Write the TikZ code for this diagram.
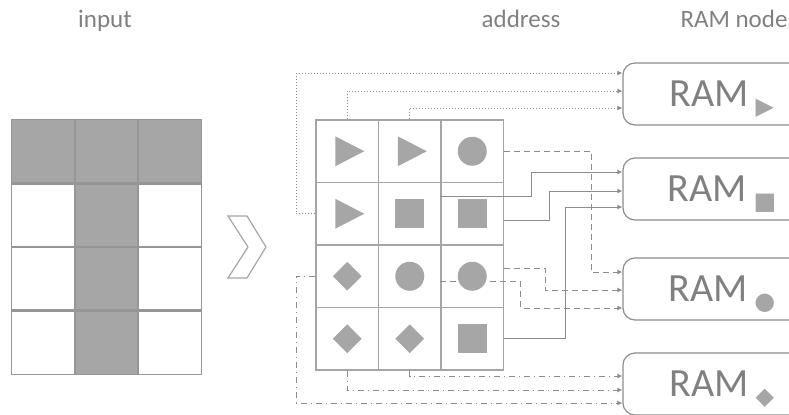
\documentclass[tikz,border=0pt]{standalone}
\usepackage{fontspec}
\setmainfont{Carlito}
\newfontfamily\symfont{DejaVu Sans}
\usetikzlibrary{shapes.geometric, arrows.meta, calc}
\definecolor{linegray}{RGB}{165,165,165}
\definecolor{gridgray}{RGB}{150,150,150}
\definecolor{shapegray}{RGB}{166,166,166}
\definecolor{textgray}{RGB}{128,128,128}
\definecolor{wiregray}{RGB}{140,140,140}
\newcommand{\ramsym}[1]{\smash{\raisebox{\dimexpr-\height+4pt}{\textcolor{shapegray}{\symfont\fontsize{12}{12}\selectfont #1}}}}

\begin{document}
\begin{tikzpicture}[x=0.5pt, y=-0.5pt,
  cell/.style={draw=linegray, line width=0.6pt, minimum size=31.25pt, inner sep=0pt},
  shp/.style={fill=shapegray, inner sep=0pt},
  sq/.style={shp, minimum size=14.5pt},
  ci/.style={shp, circle, minimum size=14.5pt},
  di/.style={shp, diamond, minimum size=14.5pt},
  ram/.style={draw=wiregray, line width=0.6pt, rounded corners=6pt, minimum width=99pt,
    minimum height=31pt, text=textgray, font=\fontsize{20}{20}\selectfont},
  hdr/.style={text=textgray, font=\fontsize{12.5}{14}\selectfont, anchor=base},
  wire/.style={draw=wiregray, line width=0.5pt, -{Latex[length=2.5pt,width=2.5pt]}}]
\useasboundingbox (0,0) rectangle (789,414);

\node[hdr] (hin) at (105,27) {input};
\node[hdr] (haddr) at (521,27) {address};
\node[hdr] (hram) at (734,27) {RAM node};

% input pattern
\foreach \r/\c/\f in {1/1/shapegray,1/2/shapegray,1/3/shapegray,2/1/white,2/2/shapegray,2/3/white,
                      3/1/white,3/2/shapegray,3/3/white,4/1/white,4/2/shapegray,4/3/white}
  \node[cell, draw=none, fill=\f, minimum width=31.5pt, minimum height=31.75pt] (i\r\c)
    at ({12+63*\c-31.5},{120+63.5*\r-31.75}) {};
\foreach \r in {1,...,4}
  \foreach \c in {1,2,3}
    \draw[gridgray, line width=0.6pt] (i\r\c.south west) rectangle (i\r\c.north east);

\draw[linegray, line width=0.6pt] (228,216) -- (247,216) -- (266,247) -- (247,278)
  -- (228,278) -- (248,247) -- cycle;

% address grid
\foreach \r in {1,...,4}
  \foreach \c in {1,2,3}
    \node[cell] (c\r\c) at ({316+62.5*\c-31.25},{120+62.5*\r-31.25}) {};

\node[ram] (ram1) at (722,94) {RAM\,\ramsym{▶}};
\node[ram] (ram2) at (722,189) {RAM\,\ramsym{■}};
\node[ram] (ram3) at (722,289) {RAM\,\ramsym{●}};
\node[ram] (ram4) at (722,384) {RAM\,\ramsym{◆}};

\draw[wire, densely dotted] (c21.west) -- ++(-19,0) |- ([yshift=10.5pt]ram1.west);
\draw[wire, densely dotted] (c11.north) |- ([yshift=1.5pt]ram1.west);
\draw[wire, densely dotted] (c12.north) |- ([yshift=-7pt]ram1.west);

\draw[wire] ($(c23.north west)+(0,15)$) -- ++(91,0) |- ([yshift=8.5pt]ram2.west);
\draw[wire] ($(c23.east)+(0,7)$) -- ++(45,0) |- ([yshift=-1pt]ram2.west);
\draw[wire] (c43.east) -- ++(61,0) |- ([yshift=-9pt]ram2.west);

\draw[wire, dash pattern=on 3pt off 2pt] (c13.east) -- ++(87,0) |- ([yshift=8.5pt]ram3.west);
\draw[wire, dash pattern=on 3pt off 2pt] ($(c33.east)+(0,-8)$) -- ++(41,0) |- ([yshift=-0.5pt]ram3.west);
\draw[wire, dash pattern=on 3pt off 2pt] ($(c33.west)+(0,5)$) -- ++(80,0) |- ([yshift=-9.5pt]ram3.west);

\draw[wire, dash dot] (c31.west) -- ++(-19,0) |- ([yshift=-9.5pt]ram4.west);
\draw[wire, dash dot] (c41.south) |- ([yshift=-3pt]ram4.west);
\draw[wire, dash dot] (c42.south) |- ([yshift=4pt]ram4.west);

% address symbols
\foreach \n in {11,12,21}
  \fill[shapegray] ([shift={(-12,-15)}]c\n.center) -- ++(29,15) -- ++(-29,15) -- cycle;
\foreach \n/\s in {13/ci,22/sq,23/sq,31/di,32/ci,33/ci,41/di,42/di,43/sq}
  \node[\s] (m\n) at (c\n) {};
\end{tikzpicture}
\end{document}
